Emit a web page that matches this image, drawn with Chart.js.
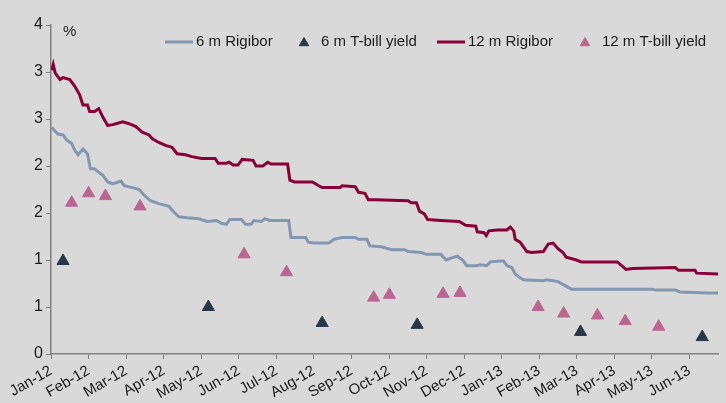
<!DOCTYPE html>
<html>
<head>
<meta charset="utf-8">
<script src="https://cdn.jsdelivr.net/npm/chart.js@4.4.1/dist/chart.umd.min.js"></script>
<style>
  html, body { margin: 0; padding: 0; background: #d9d9d9; }
  #wrap { width: 726px; height: 403px; position: relative; }
</style>
</head>
<body>
<div id="wrap"><canvas id="chart"></canvas></div>
<script>
// month labels, x = 0 is Jan-12
const months = ['Jan-12', 'Feb-12', 'Mar-12', 'Apr-12', 'May-12', 'Jun-12', 'Jul-12', 'Aug-12', 'Sep-12',
  'Oct-12', 'Nov-12', 'Dec-12', 'Jan-13', 'Feb-13', 'Mar-13', 'Apr-13', 'May-13', 'Jun-13'];

// 6 m Rigibor (x in months from Jan-12, value in %)
const rig6X = [0.02, 0.11, 0.19, 0.32, 0.41, 0.55, 0.63, 0.72, 0.85, 0.97, 1.05, 1.16, 1.25, 1.38, 1.51, 1.64,
  1.86, 1.95, 2.17, 2.35, 2.48, 2.65, 2.87, 3.14, 3.27, 3.40, 3.62, 3.93, 4.15, 4.41, 4.54, 4.67, 4.76, 5.07,
  5.18, 5.33, 5.40, 5.60, 5.69, 5.82, 6.33, 6.39, 6.78, 6.85, 7.00, 7.40, 7.53, 7.75, 8.10, 8.19, 8.41, 8.49,
  8.80, 9.07, 9.42, 9.51, 9.86, 9.99, 10.38, 10.52, 10.65, 10.82, 10.96, 11.07, 11.31, 11.44, 11.60, 11.70,
  11.97, 12.05, 12.14, 12.27, 12.36, 12.49, 12.58, 13.11, 13.20, 13.50, 13.68, 13.86, 16.01, 16.10, 16.62,
  16.75, 17.50, 17.76];
const rig6 = [2.41, 2.37, 2.34, 2.33, 2.28, 2.24, 2.17, 2.12, 2.18, 2.13, 1.97, 1.97, 1.94, 1.90, 1.83, 1.81,
  1.84, 1.79, 1.77, 1.75, 1.69, 1.63, 1.60, 1.57, 1.51, 1.46, 1.45, 1.44, 1.41, 1.42, 1.39, 1.38, 1.43, 1.43,
  1.38, 1.38, 1.42, 1.41, 1.44, 1.42, 1.42, 1.24, 1.24, 1.19, 1.18, 1.18, 1.22, 1.24, 1.24, 1.22, 1.22, 1.15,
  1.14, 1.11, 1.11, 1.09, 1.08, 1.06, 1.06, 1.00, 1.02, 1.04, 1.00, 0.94, 0.94, 0.95, 0.94, 0.98,
  0.99, 0.99, 0.94, 0.92, 0.85, 0.81, 0.79, 0.78, 0.79, 0.77, 0.73, 0.69, 0.69, 0.68, 0.68,
  0.66, 0.65, 0.65];

// 12 m Rigibor
const rig12X = [0.02, 0.06, 0.11, 0.24, 0.32, 0.50, 0.63, 0.76, 0.85, 0.97, 1.03, 1.16, 1.27, 1.38, 1.51, 1.64,
  1.73, 1.91, 2.08, 2.26, 2.43, 2.61, 2.70, 2.87, 3.05, 3.22, 3.36, 3.58, 3.75, 4.01, 4.37, 4.45, 4.67, 4.74,
  4.85, 4.98, 5.09, 5.38, 5.46, 5.64, 5.77, 5.86, 6.30, 6.36, 6.48, 6.96, 7.13, 7.22, 7.70, 7.75, 8.10, 8.19,
  8.36, 8.45, 8.63, 9.51, 9.59, 9.73, 9.81, 9.94, 10.03, 10.38, 10.87, 11.04, 11.31, 11.35, 11.53, 11.59,
  11.66, 11.88, 12.14, 12.23, 12.32, 12.36, 12.49, 12.67, 12.80, 13.11, 13.24, 13.37, 13.50, 13.63, 13.72,
  13.99, 14.12, 15.08, 15.31, 15.48, 16.62, 16.71, 17.15, 17.19, 17.76];
const rig12 = [3.02, 3.08, 2.99, 2.92, 2.94, 2.92, 2.85, 2.76, 2.65, 2.65, 2.58, 2.58, 2.61, 2.52, 2.43, 2.44,
  2.45, 2.47, 2.45, 2.42, 2.36, 2.33, 2.29, 2.25, 2.22, 2.20, 2.13, 2.12, 2.10, 2.08, 2.08, 2.03, 2.03, 2.04,
  2.01, 2.01, 2.07, 2.06, 2.00, 2.00, 2.04, 2.02, 2.02, 1.85, 1.83, 1.83, 1.79, 1.77, 1.77, 1.79, 1.78, 1.72,
  1.71, 1.64, 1.64, 1.63, 1.61, 1.61, 1.52, 1.49, 1.43, 1.42, 1.41, 1.37, 1.36, 1.30, 1.29, 1.26,
  1.31, 1.32, 1.32, 1.35, 1.31, 1.22, 1.19, 1.09, 1.08, 1.09, 1.17, 1.18, 1.12, 1.08, 1.03,
  1.00, 0.98, 0.98, 0.90, 0.91, 0.92, 0.89, 0.89, 0.86, 0.85];

// T-bill auctions
const tbill6X = [0.32, 4.19, 7.22, 9.75, 14.10, 17.34];
const tbill6 = [0.99, 0.50, 0.33, 0.31, 0.235, 0.18];
const tbill12X = [0.55, 1.00, 1.45, 2.37, 5.14, 6.27, 8.59, 9.01, 10.44, 10.89, 12.97, 13.65, 14.55, 15.29, 16.18];
const tbill12 = [1.61, 1.71, 1.68, 1.57, 1.06, 0.87, 0.60, 0.63, 0.64, 0.65, 0.50, 0.43, 0.41, 0.35, 0.29];

const toPts = (xs, ys) => xs.map((x, i) => ({ x: x, y: ys[i] }));

const FONT = 'Liberation Sans, Arial, sans-serif';
const textColor = '#1a1a1a';
const axisColor = '#808080';

// "%" unit label and a one-row legend drawn inside the plot area
const legendStarts = [165, 290, 437, 571];
const extras = {
  id: 'extras',
  afterDraw(chart) {
    const ctx = chart.ctx;
    ctx.save();
    ctx.font = '15px ' + FONT;
    ctx.fillStyle = textColor;
    ctx.textBaseline = 'middle';
    ctx.fillText('%', chart.chartArea.left + 12, 32);

    const y = 42;
    chart.data.datasets.forEach((ds, i) => {
      const x = legendStarts[i];
      ctx.fillStyle = ds.backgroundColor;
      ctx.strokeStyle = ds.borderColor;
      if (ds.pointStyle === 'line') {
        ctx.lineWidth = 3;
        ctx.beginPath();
        ctx.moveTo(x, y);
        ctx.lineTo(x + 28, y);
        ctx.stroke();
      } else {
        ctx.lineWidth = 1;
        Chart.helpers.drawPoint(ctx, { pointStyle: 'triangle', radius: 5.5, rotation: 0, borderWidth: 1 }, x + 14, y + 1);
      }
      ctx.fillStyle = textColor;
      ctx.fillText(ds.label, x + 31, y);
    });
    ctx.restore();
  }
};

new Chart(document.getElementById('chart'), {
  type: 'line',
  data: {
    datasets: [
      {
        label: '6 m Rigibor', data: toPts(rig6X, rig6),
        borderColor: '#8497b0', backgroundColor: '#8497b0', borderWidth: 3,
        pointRadius: 0, pointStyle: 'line', tension: 0
      },
      {
        label: '6 m T-bill yield', data: toPts(tbill6X, tbill6), showLine: false,
        borderColor: '#283848', backgroundColor: '#283848', borderWidth: 1,
        pointStyle: 'triangle', pointRadius: 7
      },
      {
        label: '12 m Rigibor', data: toPts(rig12X, rig12),
        borderColor: '#8a0036', backgroundColor: '#8a0036', borderWidth: 3,
        pointRadius: 0, pointStyle: 'line', tension: 0
      },
      {
        label: '12 m T-bill yield', data: toPts(tbill12X, tbill12), showLine: false,
        borderColor: '#bb6690', backgroundColor: '#bb6690', borderWidth: 1,
        pointStyle: 'triangle', pointRadius: 7
      }
    ]
  },
  options: {
    responsive: true,
    maintainAspectRatio: false,
    animation: false,
    layout: { padding: { top: 25, right: 1, left: 0, bottom: 0 } },
    plugins: {
      tooltip: { enabled: false },
      legend: { display: false }
    },
    scales: {
      x: {
        type: 'linear',
        min: 0,
        max: 17.76,
        afterFit: (s) => { s.height = 49; },
        border: { color: axisColor, width: 1.5 },
        grid: { display: true, drawOnChartArea: false, drawTicks: true, tickLength: 5, color: axisColor },
        ticks: {
          stepSize: 1,
          includeBounds: false,
          autoSkip: false,
          maxRotation: 30,
          minRotation: 30,
          color: textColor,
          font: { family: FONT, size: 15 },
          callback: (v) => months[v]
        }
      },
      y: {
        min: 0,
        max: 3.5,
        afterFit: (s) => { s.width = 51; },
        border: { color: axisColor, width: 1.5 },
        grid: { display: true, drawOnChartArea: false, drawTicks: true, tickLength: 5, color: axisColor },
        ticks: {
          stepSize: 0.5,
          color: textColor,
          font: { family: FONT, size: 16 },
          callback: (v) => String(Math.round(v))
        }
      }
    }
  },
  plugins: [extras]
});
</script>
</body>
</html>
